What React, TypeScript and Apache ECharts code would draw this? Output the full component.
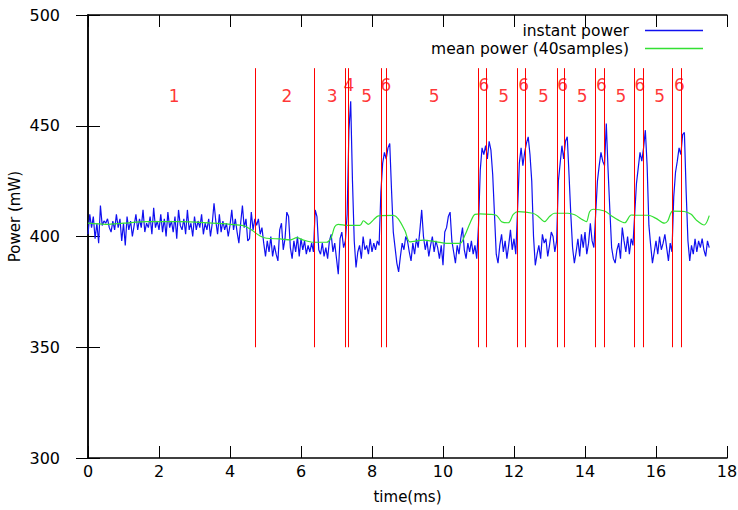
import React, { useEffect, useRef } from "react";
import * as echarts from "echarts";

// instant power samples, one every 0.05 ms starting at 0 ms
const sampleStep = 0.05;
const instantPower = [
  401, 410, 404, 409, 399, 406, 397, 414, 405, 407, 406, 408, 404, 402, 407, 403, 410, 404, 408, 398,
  406, 396, 409, 403, 407, 400, 405, 410, 403, 408, 404, 412, 402, 406, 404, 409, 401, 413, 404, 407,
  403, 410, 402, 408, 400, 411, 404, 407, 402, 409, 399, 412, 405, 403, 408, 401, 412, 403, 406, 400,
  409, 403, 407, 404, 410, 401, 406, 403, 408, 400, 406, 415, 407, 401, 410, 402, 407, 403, 406, 400,
  405, 412, 403, 408, 402, 397, 406, 414, 404, 408, 398, 399, 411, 403, 408, 405, 408, 401, 404, 397,
  391, 398, 393, 400, 391, 396, 392, 389, 403, 406, 394, 399, 411, 409, 395, 390, 398, 393, 400, 391,
  399, 394, 398, 392, 396, 393, 397, 393, 412, 409, 394, 392, 397, 391, 395, 390, 398, 401, 393, 397,
  390, 383, 399, 402, 395, 398, 410, 448, 461, 425, 398, 386, 393, 396, 390, 400, 394, 396, 392, 399,
  393, 397, 394, 398, 396, 420, 433, 438, 435, 440, 442, 421, 402, 395, 388, 384, 391, 397, 394, 400,
  398, 393, 389, 397, 392, 399, 395, 403, 412, 400, 394, 398, 391, 396, 400, 393, 398, 395, 390, 396,
  387, 402, 404, 409, 411, 398, 393, 388, 396, 392, 399, 404, 394, 390, 397, 393, 398, 392, 396, 390,
  405, 430, 440, 437, 441, 435, 443, 439, 428, 410, 392, 388, 396, 401, 393, 398, 390, 396, 403, 394,
  399, 392, 412, 433, 440, 432, 438, 442, 445, 437, 425, 400, 387, 392, 396, 390, 401, 397, 399, 391,
  396, 402, 400, 393, 398, 425, 433, 441, 435, 443, 445, 428, 410, 395, 388, 393, 399, 391, 401, 395,
  402, 392, 397, 406, 398, 395, 410, 425, 432, 438, 434, 432, 451, 430, 412, 395, 390, 388, 394, 397,
  390, 404, 398, 393, 400, 392, 399, 396, 410, 424, 431, 438, 434, 440, 448, 432, 405, 396, 388, 393,
  398, 392, 400, 394, 397, 401, 395, 389, 397, 393, 418, 429, 434, 440, 437, 446, 447, 420, 398, 389,
  396, 392, 399, 393, 398, 395, 399, 394, 391, 398, 395,
];

// mean power (40 samples), read at key points
const meanTime = [
  0.0, 0.5, 1.0, 1.65, 2.6, 3.5, 4.0, 4.38, 4.6, 4.85, 5.03, 5.41, 5.7, 5.88, 6.05, 6.35, 6.72, 6.85,
  6.95, 7.05, 7.3, 7.66, 7.76, 7.9, 8.04, 8.18, 8.6, 8.74, 8.93, 9.07, 9.45, 9.82, 10.1, 10.48, 10.62,
  10.76, 10.9, 11.04, 11.32, 11.51, 11.65, 11.84, 11.98, 12.12, 12.53, 12.67, 12.86, 13.0, 13.14, 13.52,
  13.71, 13.94, 14.04, 14.13, 14.23, 14.55, 14.75, 14.93, 15.12, 15.3, 15.44, 15.77, 16.0, 16.24, 16.33,
  16.47, 16.8, 16.99, 17.13, 17.36, 17.5,
];
const meanPower = [
  406.0, 405.5, 406.0, 406.7, 406.7, 406.0, 405.5, 404.9, 403.0, 400.2, 399.2, 398.9, 398.5, 399.5, 398.5,
  397.4, 397.4, 399.5, 404.4, 405.5, 405.0, 405.0, 407.1, 405.5, 407.5, 409.3, 409.5, 408.0, 402.6, 397.6,
  398.4, 397.6, 396.9, 396.9, 400.7, 406.0, 410.0, 410.2, 410.0, 409.5, 406.7, 406.2, 410.0, 411.2, 410.5,
  409.3, 406.7, 409.0, 410.5, 410.5, 409.8, 407.5, 406.7, 411.2, 412.3, 411.5, 409.3, 407.5, 406.2, 409.7,
  409.6, 409.6, 408.2, 406.0, 407.0, 411.5, 411.3, 410.0, 407.5, 405.2, 409.4,
];

// red phase boundaries (ms) and phase labels
const boundaryTimes = [
  4.71, 6.37, 7.26, 7.32, 8.27, 8.4, 10.99, 11.22, 12.09, 12.32, 13.21, 13.42, 14.29, 14.54, 15.38, 15.63,
  16.47, 16.72,
];
const boundaryLow = 350;
const boundaryHigh = 476;
const phaseLabels = ["1", "2", "3", "4", "5", "6", "5", "6", "5", "6", "5", "6", "5", "6", "5", "6", "5", "6"];
const phaseTimes = [
  2.43, 5.6, 6.88, 7.35, 7.85, 8.39, 9.75, 11.15, 11.71, 12.27, 12.83, 13.37, 13.92, 14.46, 15.01, 15.55,
  16.1, 16.66,
];
const phaseLevels = [
  463.4, 463.4, 463.4, 468.4, 463.4, 468.4, 463.4, 468.4, 463.4, 468.4, 463.4, 468.4, 463.4, 468.4, 463.4,
  468.4, 463.4, 468.4,
];

const FONT = "DejaVu Sans";

export default function App() {
  const ref = useRef<HTMLDivElement>(null);
  useEffect(() => {
    if (!ref.current) return;
    const chart = echarts.init(ref.current, undefined, { renderer: "svg" });
    const instantData = instantPower.map((v, i) => [Number((i * sampleStep).toFixed(2)), v]);
    const meanData = meanTime.map((t, i) => [t, meanPower[i]]);
    const labelData = phaseTimes.map((t, i) => ({ value: [t, phaseLevels[i]], name: phaseLabels[i] }));
    const axisLineStyle = { color: "#000", width: 1.5 };
    const tick = { show: true, inside: true, length: 12, lineStyle: { color: "#000", width: 1 } };
    const legendText = { fontFamily: FONT, fontSize: 15.5, color: "#000", padding: [0, 11, 0, 0] };
    chart.setOption({
      animation: false,
      backgroundColor: "#fff",
      grid: { left: 88, right: 11, top: 15, bottom: 52, outerBoundsMode: "none", containLabel: false },
      legend: [
        {
          data: ["instant power"],
          right: 35,
          top: 22.5,
          padding: 0,
          align: "right",
          icon: "rect",
          itemWidth: 58,
          itemHeight: 1.5,
          textStyle: legendText,
        },
        {
          data: ["mean power (40samples)"],
          right: 35,
          top: 40.5,
          padding: 0,
          align: "right",
          icon: "rect",
          itemWidth: 58,
          itemHeight: 1.5,
          textStyle: legendText,
        },
      ],
      xAxis: [
        {
          type: "value",
          min: 0,
          max: 18,
          interval: 2,
          name: "time(ms)",
          nameLocation: "middle",
          nameGap: 31,
          nameTextStyle: { fontFamily: FONT, fontSize: 15, color: "#000" },
          axisLine: { lineStyle: axisLineStyle },
          axisTick: tick,
          axisLabel: { fontFamily: FONT, fontSize: 16, color: "#000", margin: 5 },
          splitLine: { show: false },
        },
        {
          type: "value",
          position: "top",
          min: 0,
          max: 18,
          interval: 2,
          axisLine: { lineStyle: axisLineStyle },
          axisTick: tick,
          axisLabel: { show: false },
          splitLine: { show: false },
        },
      ],
      yAxis: [
        {
          type: "value",
          min: 300,
          max: 500,
          interval: 50,
          name: "Power (mW)",
          nameLocation: "middle",
          nameGap: 66,
          nameMoveOverlap: false,
          nameTextStyle: { fontFamily: FONT, fontSize: 15, color: "#000", padding: [0, 0, 0, 40] },
          axisLine: { show: true, lineStyle: axisLineStyle },
          axisTick: tick,
          axisLabel: { fontFamily: FONT, fontSize: 16, color: "#000", margin: 28 },
          splitLine: { show: false },
        },
        {
          type: "value",
          position: "right",
          min: 300,
          max: 500,
          interval: 50,
          axisLine: { show: true, lineStyle: axisLineStyle },
          axisTick: tick,
          axisLabel: { show: false },
          splitLine: { show: false },
        },
      ],
      series: [
        {
          name: "instant power",
          type: "line",
          data: instantData,
          symbol: "none",
          color: "#1010f0",
          lineStyle: { color: "#1010f0", width: 1.2 },
          z: 2,
        },
        {
          name: "mean power (40samples)",
          type: "line",
          data: meanData,
          symbol: "none",
          smooth: 0.3,
          color: "#33e033",
          lineStyle: { color: "#33e033", width: 1.2 },
          z: 3,
        },
        {
          name: "phases",
          type: "scatter",
          data: labelData,
          symbolSize: 0,
          silent: true,
          z: 4,
          label: {
            show: true,
            position: "inside",
            formatter: "{b}",
            color: "#ff0000",
            fontFamily: FONT,
            fontSize: 17,
          },
          markLine: {
            silent: true,
            symbol: ["none", "none"],
            label: { show: false },
            lineStyle: { color: "#ff0000", width: 1, type: "solid", opacity: 1 },
            emphasis: { disabled: true },
            data: boundaryTimes.map((t) => [{ coord: [t, boundaryLow] }, { coord: [t, boundaryHigh] }]),
          },
        },
      ],
    });
    return () => chart.dispose();
  }, []);
  return (
    <div
      ref={ref}
      style={{ position: "fixed", left: 0, top: 0, width: 738, height: 510, background: "#fff" }}
    />
  );
}
